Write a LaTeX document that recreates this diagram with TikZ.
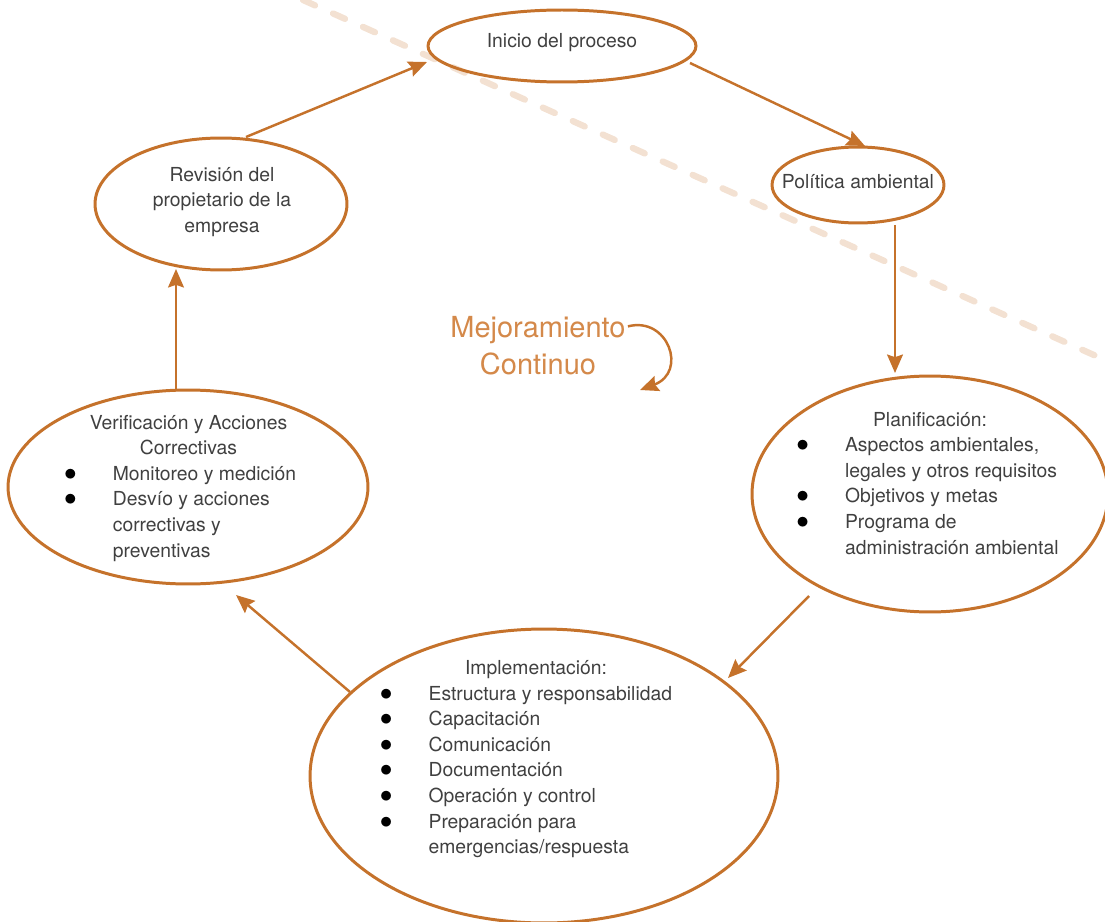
\documentclass[tikz,border=0pt]{standalone}
\usepackage{fontspec}
\setmainfont{TeX Gyre Heros}
\usetikzlibrary{arrows.meta,%
                shapes.geometric}
\definecolor{naranja}{HTML}{C5722B}
\definecolor{naranjaclaro}{HTML}{D4894A}
\definecolor{durazno}{HTML}{F3E1D2}
\definecolor{gristexto}{HTML}{404040}
\tikzstyle{fase}=[ellipse, draw=naranja, line width=1.7pt, inner sep=0pt]
\tikzstyle{texto}=[text=gristexto, font=\fontsize{11}{14.6}\selectfont, align=center, inner sep=0pt]
\tikzstyle{flecha}=[draw=naranja, line width=1.4pt, -{Stealth[length=10.5pt,width=9pt,inset=1.5pt]}]
\newcommand{\punto}{\textcolor{black}{\fontsize{14}{14.6}\selectfont$\bullet$}}

\begin{document}
\begin{tikzpicture}[x=0.02cm, y=-0.02cm]
  \useasboundingbox (0,0) rectangle (1105,922);
  \draw[durazno, line width=3.6pt, line cap=round, dash pattern=on 7.5pt off 11.2pt] (303,0) -- (1125,369);

  \node[fase, minimum width=5.36cm, minimum height=1.44cm] (inicio) at (562,46) {};
  \node[fase, minimum width=3.44cm, minimum height=1.52cm] (politica) at (858,185) {};
  \node[fase, minimum width=5.04cm, minimum height=2.64cm] (revision) at (221,204) {};
  \node[fase, minimum width=7.2cm, minimum height=3.88cm] (verificacion) at (188,487) {};
  \node[fase, minimum width=7.12cm, minimum height=4.72cm] (planificacion) at (930,494) {};
  \node[fase, minimum width=9.36cm, minimum height=5.88cm] (implementacion) at (544,776) {};

  \node[texto] (inicio-txt) at (562,43) {Inicio del proceso};
  \node[texto] (politica-txt) at (858,182) {Política ambiental};
  \node[texto] (revision-txt) at (222,202) {Revisión del\\propietario de la\\empresa};
  \node[texto] (verificacion-txt) at (181,488) {%
    \begin{tabular}{@{}c@{\hspace{0.72cm}}l@{}}
      \multicolumn{2}{c}{\hspace{0.3cm}Verificación y Acciones}\\
      \multicolumn{2}{c}{\hspace{0.3cm}Correctivas}\\
      \punto & Monitoreo y medición\\
      \punto & Desvío y acciones\\
             & correctivas y\\
             & preventivas
    \end{tabular}};
  \node[texto] (planificacion-txt) at (927.5,485) {%
    \begin{tabular}{@{}c@{\hspace{0.72cm}}l@{}}
      \multicolumn{2}{c}{\hspace{0.1cm}Planificación:}\\
      \punto & Aspectos ambientales,\\
             & legales y otros requisitos\\
      \punto & Objetivos y metas\\
      \punto & Programa de\\
             & administración ambiental
    \end{tabular}};
  \node[texto] (implementacion-txt) at (526,759) {%
    \begin{tabular}{@{}c@{\hspace{0.72cm}}l@{}}
      \multicolumn{2}{c}{\hspace{0.4cm}Implementación:}\\
      \punto & Estructura y responsabilidad\\
      \punto & Capacitación\\
      \punto & Comunicación\\
      \punto & Documentación\\
      \punto & Operación y control\\
      \punto & Preparación para\\
             & emergencias/respuesta
    \end{tabular}};

  \node[text=naranjaclaro, font=\fontsize{16.5}{21}\selectfont, align=center, inner sep=0pt] (mejora) at (538,346) {Mejoramiento\\Continuo};
  \coordinate (mejora-fin) at (640,390);

  \draw[flecha] ([shift={(25,-67)}]revision.center) -- ([shift={(-135,16)}]inicio.center);
  \draw[flecha] ([shift={(128,17)}]inicio.center) -- ([shift={(7,-39)}]politica.center);
  \draw[flecha] ([shift={(37,40)}]politica.center) -- ([shift={(-35,-121)}]planificacion.center);
  \draw[flecha] ([shift={(-121,102)}]planificacion.center) -- ([shift={(184,-98)}]implementacion.center);
  \draw[flecha] ([shift={(-194,-84)}]implementacion.center) -- ([shift={(48,108)}]verificacion.center);
  \draw[flecha] ([shift={(-12,-97)}]verificacion.center) -- ([shift={(-45,65)}]revision.center);
  \draw[flecha] ([shift={(2,10)}]mejora.north east) .. controls (668,316) and (688,372) .. (mejora-fin);
\end{tikzpicture}
\end{document}
